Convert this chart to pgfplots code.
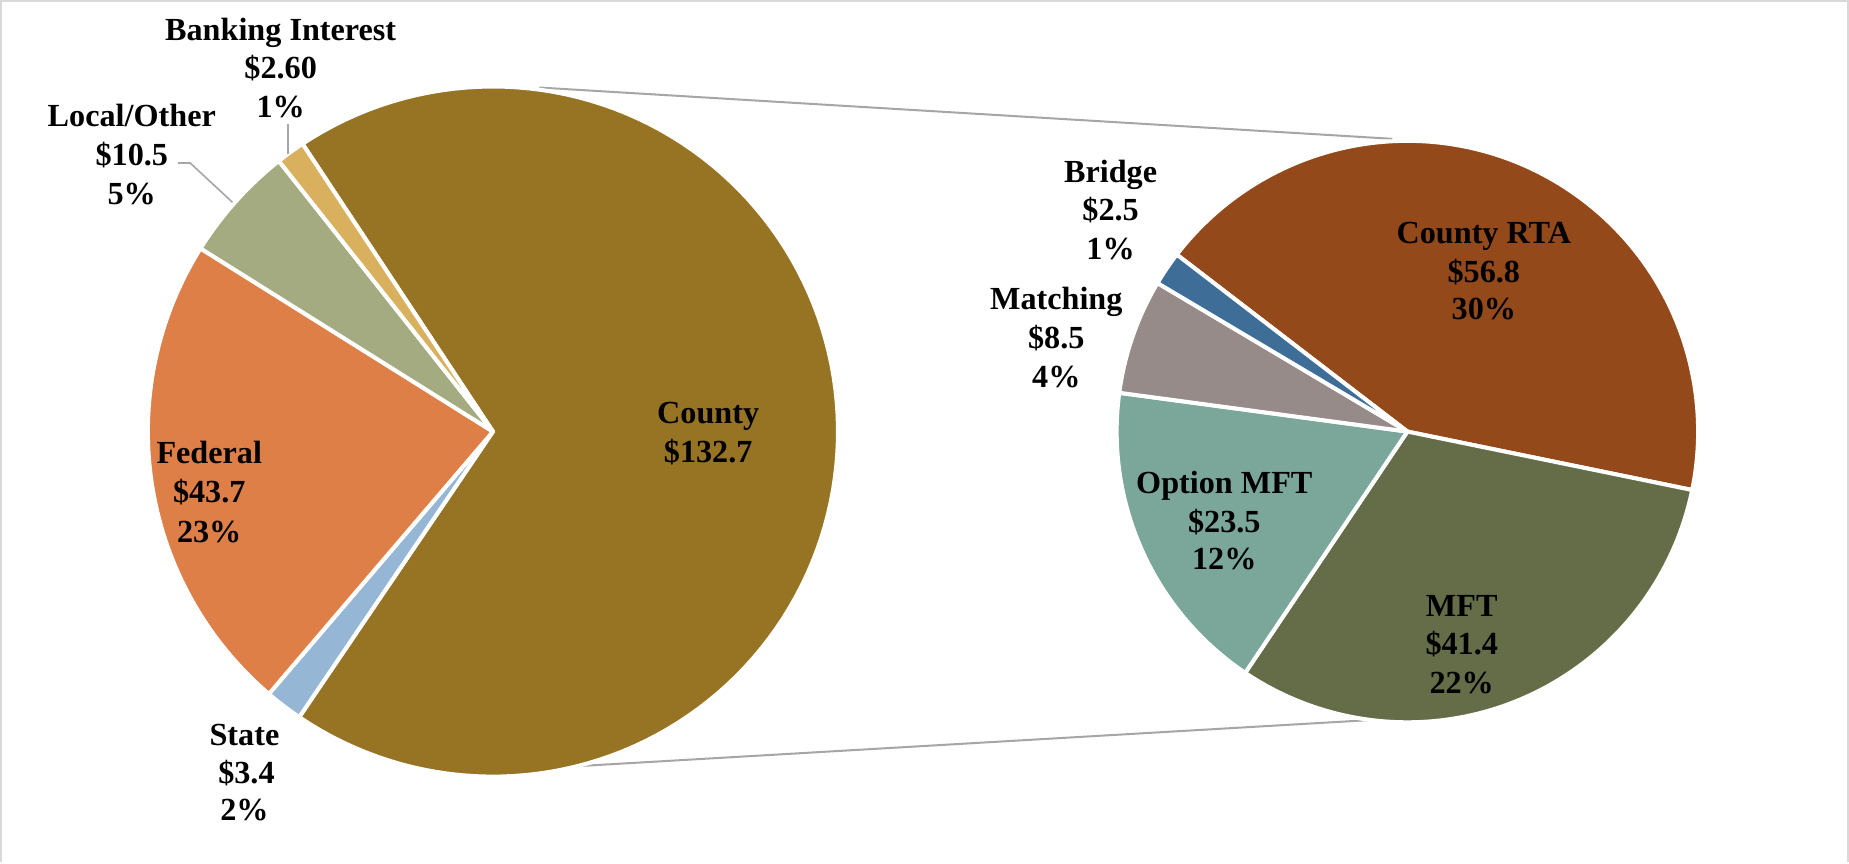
\documentclass[border=0pt]{standalone}
\usepackage{pgfplots}
\pgfplotsset{compat=1.18}
\usepackage{fontspec}
\setmainfont{Liberation Serif}
\definecolor{cCounty}{HTML}{967423}
\definecolor{cFederal}{HTML}{DE7F48}
\definecolor{cState}{HTML}{96B6D5}
\definecolor{cLocal}{HTML}{A5AB80}
\definecolor{cBank}{HTML}{D9B05E}
\definecolor{cRTA}{HTML}{94491B}
\definecolor{cMFT}{HTML}{656C48}
\definecolor{cOpt}{HTML}{7BA79B}
\definecolor{cMatch}{HTML}{968B89}
\definecolor{cBridge}{HTML}{3E6E97}
\definecolor{cLine}{HTML}{A6A6A6}
\definecolor{cFrame}{HTML}{D9D9D9}
\newcommand\pieslice[6]{% color, cx, cy, r, lower angle, upper angle
  \addplot[fill=#1, draw=white, line width=2bp, line join=round, domain=#5:#6, samples=120, variable=\t]
    ({#2+#4*cos(\t)},{#3+#4*sin(\t)}) -- (axis cs:#2,#3) -- cycle;}
\tikzset{lab/.style={font=\bfseries\fontsize{16bp}{19bp}\selectfont, anchor=base, inner sep=0pt, text=black}}
% primary pie values (total 192.9), clockwise from 123.5 deg
\def\totL{192.9}%
\pgfmathsetmacro\aL{123.5}%
\pgfmathsetmacro\bL{\aL-132.7/\totL*360}% County
\pgfmathsetmacro\cL{\bL-3.4/\totL*360}% State
\pgfmathsetmacro\dL{\cL-43.7/\totL*360}% Federal
\pgfmathsetmacro\eL{\dL-10.5/\totL*360}% Local/Other
\pgfmathsetmacro\fL{\eL-2.60/\totL*360}% Banking Interest
% secondary pie values (total 132.7), clockwise from 142.5 deg
\def\totR{132.7}%
\pgfmathsetmacro\aR{142.5}%
\pgfmathsetmacro\bR{\aR-56.8/\totR*360}% County RTA
\pgfmathsetmacro\cR{\bR-41.4/\totR*360}% MFT
\pgfmathsetmacro\dR{\cR-23.5/\totR*360}% Option MFT
\pgfmathsetmacro\eR{\dR-8.5/\totR*360}% Matching
\pgfmathsetmacro\fR{\eR-2.5/\totR*360}% Bridge
\begin{document}%
\begin{tikzpicture}
\begin{axis}[x=0.5bp, y=0.5bp, xmin=0, xmax=1849, ymin=0, ymax=861,
  hide axis, clip=false]
% frame
\draw[cFrame, line width=1bp] (axis cs:7,0) -- (axis cs:7,856) -- (axis cs:1843,856) -- (axis cs:1843,0);
% connector lines
\draw[cLine, line width=1bp] (axis cs:542,770) -- (axis cs:1390,719);
\draw[cLine, line width=1bp] (axis cs:556,94) -- (axis cs:1381,142);
% primary pie
\pieslice{cCounty}{496}{428}{343}{\bL}{\aL}
\pieslice{cState}{496}{428}{343}{\cL}{\bL}
\pieslice{cFederal}{496}{428}{343}{\dL}{\cL}
\pieslice{cLocal}{496}{428}{343}{\eL}{\dL}
\pieslice{cBank}{496}{428}{343}{\fL}{\eL}
% secondary pie
\pieslice{cRTA}{1405}{428}{289}{\bR}{\aR}
\pieslice{cMFT}{1405}{428}{289}{\cR}{\bR}
\pieslice{cOpt}{1405}{428}{289}{\dR}{\cR}
\pieslice{cMatch}{1405}{428}{289}{\eR}{\dR}
\pieslice{cBridge}{1405}{428}{289}{\fR}{\eR}
% leader lines
\draw[cLine, line width=0.8bp] (axis cs:183,695) -- (axis cs:195,695) -- (axis cs:237,656);
\draw[cLine, line width=0.8bp] (axis cs:292,734) -- (axis cs:292,704);
% labels
\node[lab] at (axis cs:285,817) {Banking Interest};
\node[lab] at (axis cs:285,778.5) {\$2.60};
\node[lab] at (axis cs:285,740) {1\%};
\node[lab] at (axis cs:137,731) {Local/Other};
\node[lab] at (axis cs:137,692) {\$10.5};
\node[lab] at (axis cs:137,654) {5\%};
\node[lab] at (axis cs:249,116) {State};
\node[lab] at (axis cs:251,78) {\$3.4};
\node[lab] at (axis cs:249,41) {2\%};
\node[lab] at (axis cs:214,396) {Federal};
\node[lab] at (axis cs:214,357) {\$43.7};
\node[lab] at (axis cs:214,318) {23\%};
\node[lab] at (axis cs:710,436) {County};
\node[lab] at (axis cs:710,397) {\$132.7};
\node[lab] at (axis cs:1110,676) {Bridge};
\node[lab] at (axis cs:1110,638) {\$2.5};
\node[lab] at (axis cs:1110,599) {1\%};
\node[lab] at (axis cs:1056,549) {Matching};
\node[lab] at (axis cs:1056,511) {\$8.5};
\node[lab] at (axis cs:1056,472) {4\%};
\node[lab] at (axis cs:1481,615) {County RTA};
\node[lab] at (axis cs:1481,576) {\$56.8};
\node[lab] at (axis cs:1481,539) {30\%};
\node[lab] at (axis cs:1223,366) {Option MFT};
\node[lab] at (axis cs:1223,328) {\$23.5};
\node[lab] at (axis cs:1223,291) {12\%};
\node[lab] at (axis cs:1459,244) {MFT};
\node[lab] at (axis cs:1459,206) {\$41.4};
\node[lab] at (axis cs:1459,168) {22\%};
\end{axis}
\end{tikzpicture}%
\end{document}
